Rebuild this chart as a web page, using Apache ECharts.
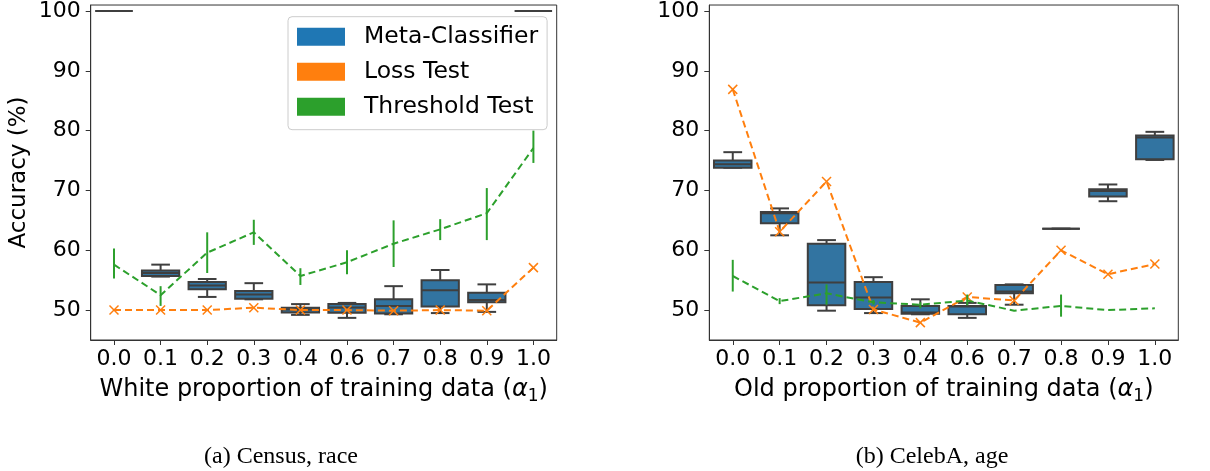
<!DOCTYPE html>
<html><head><meta charset="utf-8">
<script src="https://cdn.jsdelivr.net/npm/echarts@6/dist/echarts.min.js"></script>
<style>html,body{margin:0;padding:0;background:#fff}#c{width:1210px;height:471px}</style>
</head><body><div id="c"></div>
<script>
const categories = ['0.0','0.1','0.2','0.3','0.4','0.6','0.7','0.8','0.9','1.0'];
const yTicks = [50,60,70,80,90,100];

// Census, race — Meta-Classifier boxes: [min, q1, median, q3, max]
const censusMeta = [
  [100,100,100,100,100],
  [55.6,55.7,56.2,56.6,57.6],
  [52.2,53.5,54.1,54.7,55.2],
  [51.8,51.9,52.6,53.2,54.5],
  [49.2,49.6,50.1,50.4,51.0],
  [48.7,49.55,50.45,51.0,51.2],
  [49.3,49.45,50.7,51.8,54.0],
  [49.5,50.6,53.3,55.0,56.7],
  [49.7,51.3,51.7,52.9,54.3],
  [100,100,100,100,100]
];
const censusLoss = [50.0,50.0,50.0,50.4,50.0,50.0,49.9,50.0,49.9,57.1];
const censusThr = [57.6,52.5,59.6,63.0,55.7,58.0,61.1,63.5,66.2,77.1];
const censusThrLow = [55.3,50.7,56.2,60.9,54.2,56.0,57.2,61.7,61.7,74.6];
const censusThrHigh = [60.3,54.0,63.0,65.1,57.0,60.0,65.0,65.2,70.4,80.0];

// CelebA, age
const celebMeta = [
  [73.8,73.8,74.4,75.0,76.4],
  [62.5,64.5,66.2,66.4,67.0],
  [49.9,50.8,54.6,61.1,61.7],
  [49.5,50.2,52.1,54.7,55.5],
  [49.3,49.4,49.6,50.7,51.8],
  [48.7,49.3,50.6,50.7,51.2],
  [50.9,52.8,53.1,54.2,54.3],
  [63.6,63.6,63.6,63.6,63.6],
  [68.2,69.0,69.9,70.2,71.0],
  [75.1,75.2,78.85,79.2,79.8]
];
const celebLoss = [86.9,63.1,71.5,50.1,47.9,52.2,51.6,60.0,56.0,57.7];
const celebThr = [55.7,51.5,52.8,51.3,50.9,51.6,49.9,50.7,50.0,50.3];
const celebThrLow = [53.1,51.0,50.9,50.9,50.3,50.8,49.9,48.9,50.0,50.3];
const celebThrHigh = [58.4,52.0,54.3,51.7,51.3,52.6,49.9,52.6,50.0,50.3];

const FONT = 'DejaVu Sans';
const BLUE_BOX = '#3274a1', EDGE = '#3f3f3f';
const ORANGE = '#ff7f0e', GREEN = '#2ca02c';

function boxRender(params, api) {
  const x = api.value(0);
  const c = [1,2,3,4,5].map(i => api.coord([x, api.value(i)]));
  const bw = api.size([1,0])[0] * 0.8;
  const cx = c[0][0];
  const yMin=c[0][1], yQ1=c[1][1], yMed=c[2][1], yQ3=c[3][1], yMax=c[4][1];
  const st = {stroke: EDGE, lineWidth: 2};
  return {type:'group', children:[
    {type:'line', shape:{x1:cx,y1:yQ1,x2:cx,y2:yMin}, style:st},
    {type:'line', shape:{x1:cx,y1:yQ3,x2:cx,y2:yMax}, style:st},
    {type:'line', shape:{x1:cx-bw/4,y1:yMin,x2:cx+bw/4,y2:yMin}, style:st},
    {type:'line', shape:{x1:cx-bw/4,y1:yMax,x2:cx+bw/4,y2:yMax}, style:st},
    {type:'rect', shape:{x:cx-bw/2,y:yQ3,width:bw,height:Math.max(yQ1-yQ3,0)}, style:{fill:BLUE_BOX, stroke:EDGE, lineWidth:2}},
    {type:'line', shape:{x1:cx-bw/2,y1:yMed,x2:cx+bw/2,y2:yMed}, style:st}
  ]};
}
function crossRender(params, api) {
  const p = api.coord([api.value(0), api.value(1)]);
  const s = 4.5;
  const st = {stroke: ORANGE, lineWidth: 1.5};
  return {type:'group', children:[
    {type:'line', shape:{x1:p[0]-s,y1:p[1]-s,x2:p[0]+s,y2:p[1]+s}, style:st},
    {type:'line', shape:{x1:p[0]-s,y1:p[1]+s,x2:p[0]+s,y2:p[1]-s}, style:st}
  ]};
}
function errRender(params, api) {
  const a = api.coord([api.value(0), api.value(1)]);
  const b = api.coord([api.value(0), api.value(2)]);
  return {type:'line', shape:{x1:a[0],y1:a[1],x2:b[0],y2:b[1]}, style:{stroke:GREEN, lineWidth:2}};
}

function panelSeries(idx, meta, loss, thr, lo, hi) {
  return [
    {type:'custom', name:'Meta-Classifier', xAxisIndex:idx, yAxisIndex:idx, renderItem:boxRender,
     encode:{x:0, y:[1,2,3,4,5]}, data: meta.map((m,i)=>[i, ...m]), z:2, silent:true},
    {type:'line', name:'Loss Test', xAxisIndex:idx, yAxisIndex:idx, data: loss, showSymbol:false,
     lineStyle:{color:ORANGE, width:2, type:[7,4]}, itemStyle:{color:ORANGE}, z:3, silent:true},
    {type:'custom', name:'Loss Test', xAxisIndex:idx, yAxisIndex:idx, renderItem:crossRender,
     encode:{x:0, y:1}, data: loss.map((v,i)=>[i,v]), z:4, silent:true},
    {type:'line', name:'Threshold Test', xAxisIndex:idx, yAxisIndex:idx, data: thr, showSymbol:false,
     lineStyle:{color:GREEN, width:2, type:[7,4]}, itemStyle:{color:GREEN}, z:5, silent:true},
    {type:'custom', name:'Threshold Test', xAxisIndex:idx, yAxisIndex:idx, renderItem:errRender,
     encode:{x:0, y:[1,2]}, data: thr.map((v,i)=>[i, lo[i], hi[i]]), z:6, silent:true}
  ];
}

function xAxis(idx, title) {
  return {
    type:'category', gridIndex:idx, data:categories, boundaryGap:true,
    axisLine:{show:true, lineStyle:{color:'#333', width:1}},
    axisTick:{show:true, alignWithLabel:true, length:5, lineStyle:{color:'#333'}},
    axisLabel:{fontSize:22, fontFamily:FONT, color:'#000', margin:8},
    splitLine:{show:false},
    name: '{a|' + title + ' (}{i|α}{s|1}{a|)}',
    nameLocation:'middle', nameGap:34,
    nameTextStyle:{fontSize:24, fontFamily:FONT, color:'#000',
      rich:{
        a:{fontSize:24, fontFamily:FONT, color:'#000', lineHeight:31, verticalAlign:'middle'},
        i:{fontSize:24, fontFamily:FONT, fontStyle:'italic', color:'#000', lineHeight:31, verticalAlign:'middle'},
        s:{fontSize:17, fontFamily:FONT, color:'#000', lineHeight:17, verticalAlign:'bottom'}
      }}
  };
}
function yAxis(idx, withName) {
  const o = {
    type:'value', gridIndex:idx, min:45, max:101,
    axisLine:{show:true, lineStyle:{color:'#333', width:1}},
    axisTick:{show:true, length:5, lineStyle:{color:'#333'}, customValues:yTicks},
    axisLabel:{fontSize:22, fontFamily:FONT, color:'#000', margin:10, customValues:yTicks},
    splitLine:{show:false}
  };
  if (withName) {
    o.name = 'Accuracy (%)';
    o.nameLocation = 'middle';
    o.nameGap = 60;
    o.nameTextStyle = {fontSize:23, fontFamily:FONT, color:'#000'};
  }
  return o;
}

const chart = echarts.init(document.getElementById('c'), null, {renderer:'canvas'});
chart.setOption({
  animation:false,
  backgroundColor:'#fff',
  grid:[
    {left:90.7, top:4.7, width:466, height:335.3, show:true, borderColor:'#333', borderWidth:1},
    {left:709.3, top:4.7, width:469, height:335.3, show:true, borderColor:'#333', borderWidth:1}
  ],
  xAxis:[xAxis(0,'White proportion of training data'), xAxis(1,'Old proportion of training data')],
  yAxis:[yAxis(0,true), yAxis(1,false)],
  legend:{
    left:288, top:16.7, orient:'vertical', icon:'rect', itemWidth:48, itemHeight:18, itemGap:11,
    padding:[8,9,11,9], borderColor:'#cccccc', borderWidth:1, borderRadius:4,
    backgroundColor:'rgba(255,255,255,0.8)', selectedMode:false,
    itemStyle:{borderWidth:0},
    textStyle:{fontSize:23.5, fontFamily:FONT, color:'#000', padding:[0,0,0,14], lineHeight:23},
    data:[
      {name:'Meta-Classifier', itemStyle:{color:'#1f77b4'}},
      {name:'Loss Test', itemStyle:{color:ORANGE}},
      {name:'Threshold Test', itemStyle:{color:GREEN}}
    ]
  },
  graphic:[
    {type:'text', x:281, y:457, style:{text:'(a) Census, race', fontSize:24, fontFamily:'Liberation Serif', fill:'#000', align:'center', verticalAlign:'middle'}},
    {type:'text', x:932, y:457, style:{text:'(b) CelebA, age', fontSize:24, fontFamily:'Liberation Serif', fill:'#000', align:'center', verticalAlign:'middle'}}
  ],
  series:[
    ...panelSeries(0, censusMeta, censusLoss, censusThr, censusThrLow, censusThrHigh),
    ...panelSeries(1, celebMeta, celebLoss, celebThr, celebThrLow, celebThrHigh)
  ]
});
</script>
</body></html>
